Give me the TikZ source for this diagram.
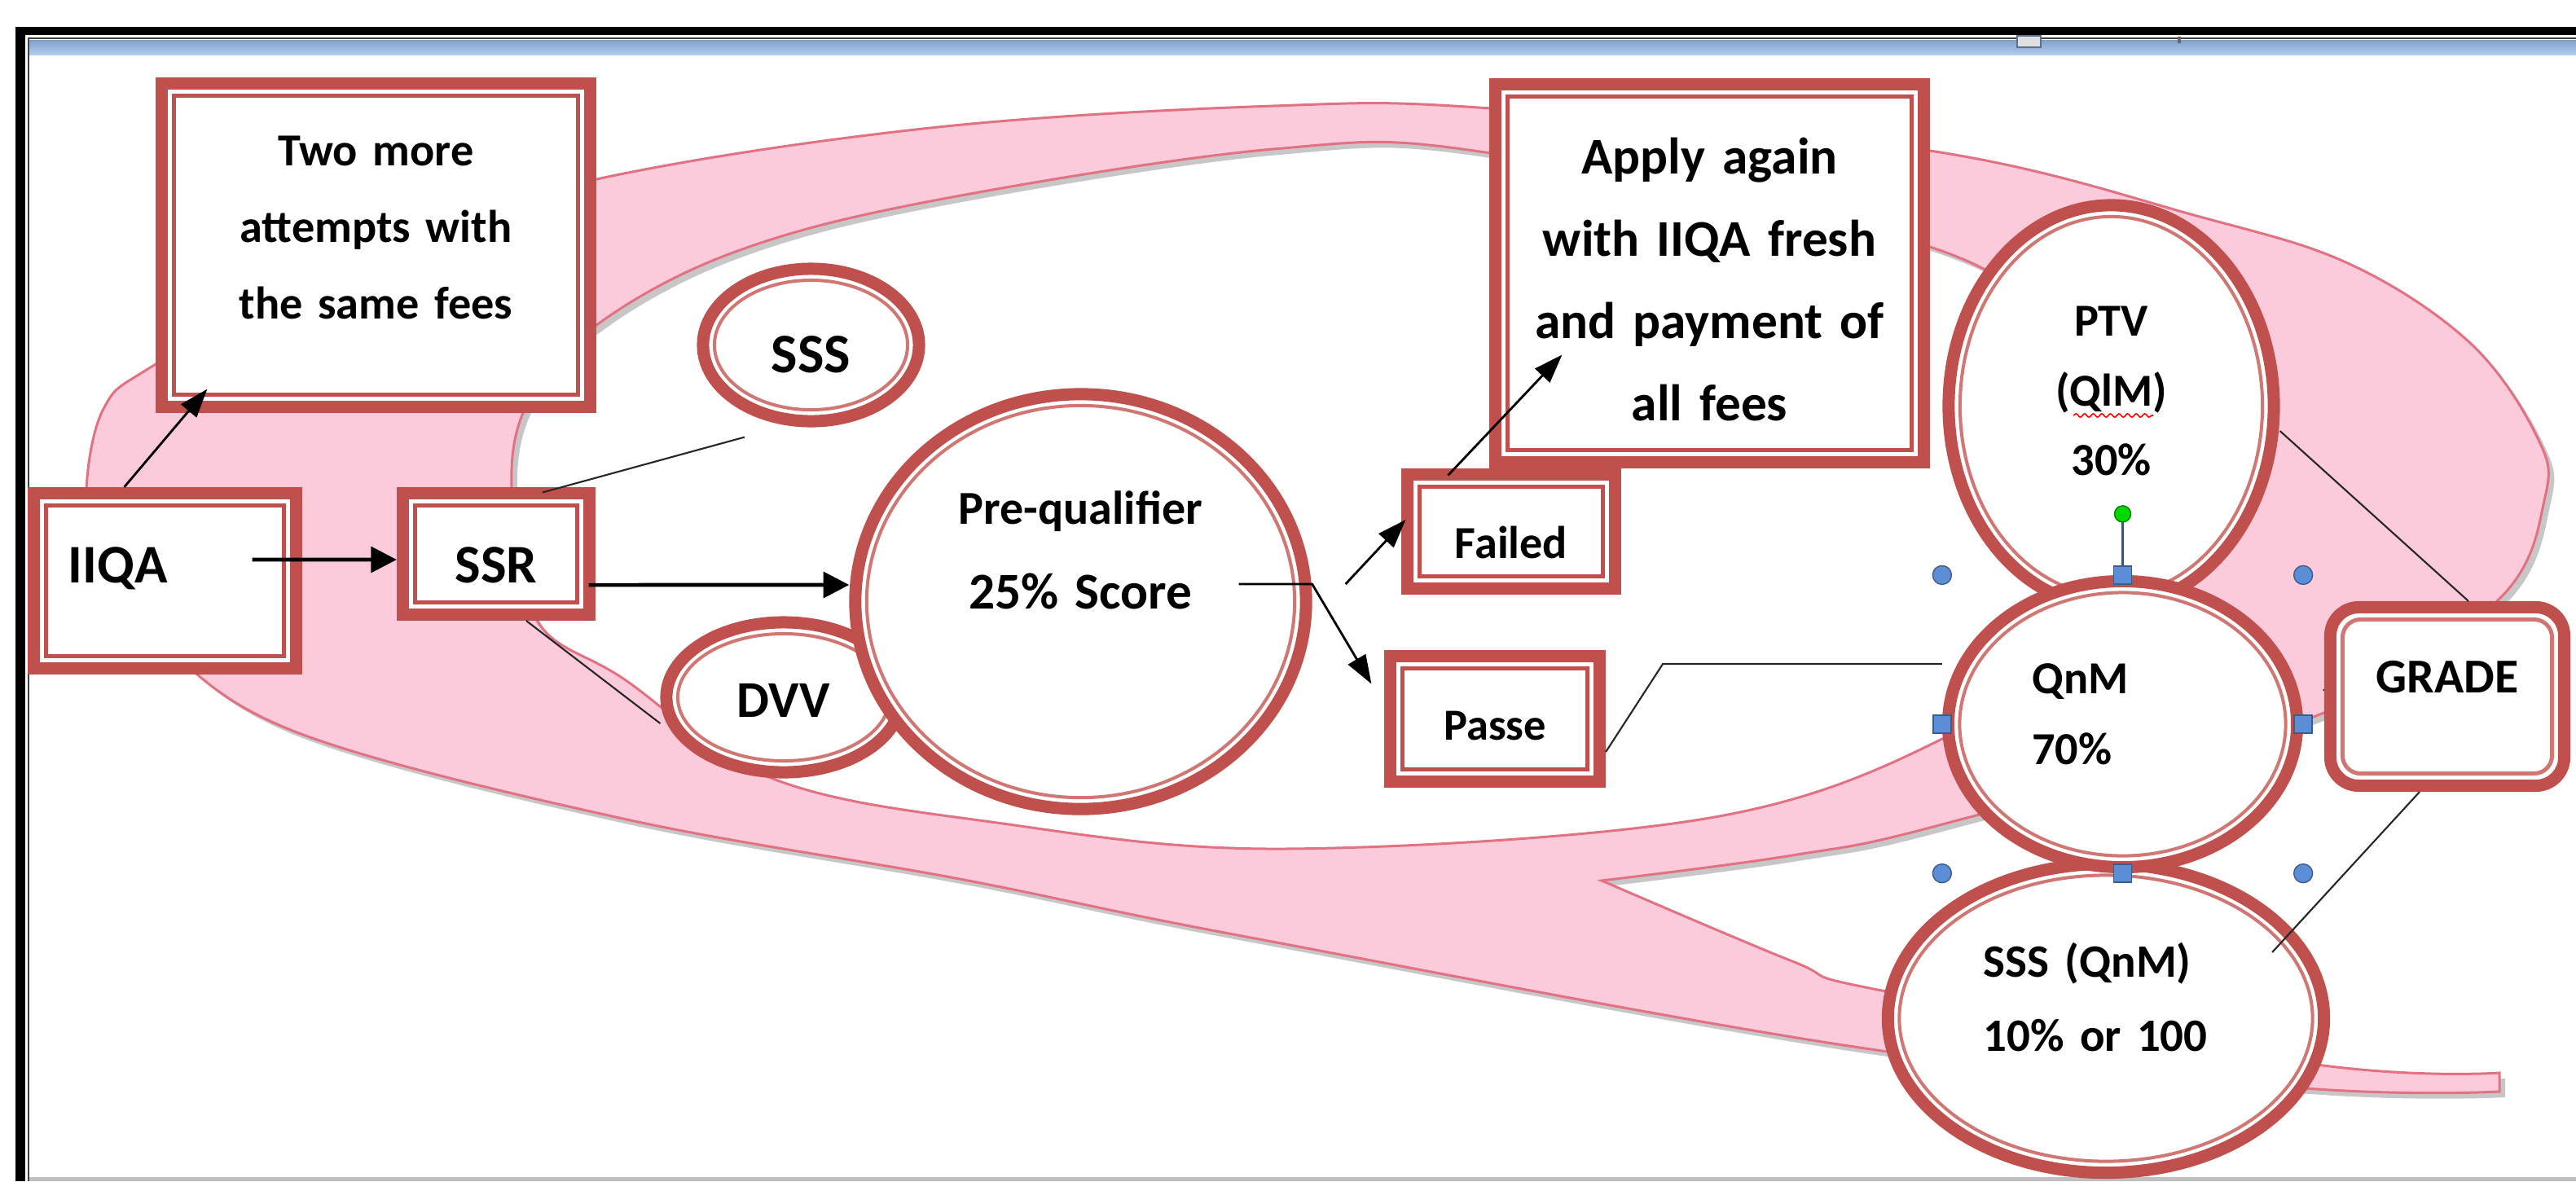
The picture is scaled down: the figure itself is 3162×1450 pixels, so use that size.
\documentclass[tikz,border=0pt]{standalone}
\usepackage{fontspec}
\setmainfont{Carlito}
\usetikzlibrary{shapes.geometric,arrows.meta,calc,decorations.pathmorphing}

\definecolor{wred}{RGB}{192,80,77}
\definecolor{wredl}{RGB}{208,118,115}
\definecolor{swirlpink}{RGB}{251,203,220}
\definecolor{swirledge}{RGB}{226,114,130}
\definecolor{barblue}{RGB}{128,160,204}
\definecolor{barlight}{RGB}{178,204,236}
\definecolor{handleblue}{RGB}{92,142,216}

\tikzset{
  dblbox/.style={draw=wred,line width=0.15cm,fill=white,inner sep=0pt,
    path picture={\draw[wred,line width=0.05cm]
      ([shift={(0.15cm,-0.15cm)}]path picture bounding box.north west) rectangle
      ([shift={(-0.15cm,0.15cm)}]path picture bounding box.south east);}},
  dblround/.style={draw=wred,line width=0.15cm,fill=white,inner sep=0pt,rounded corners=0.35cm,
    path picture={\draw[wredl,line width=0.05cm,rounded corners=0.22cm]
      ([shift={(0.15cm,-0.15cm)}]path picture bounding box.north west) rectangle
      ([shift={(-0.15cm,0.15cm)}]path picture bounding box.south east);}},
  dblell/.style={ellipse,draw=wred,line width=0.15cm,fill=white,inner sep=0pt,
    path picture={\draw[wredl,line width=0.04cm]
      let \p1=(path picture bounding box.north east),\p2=(path picture bounding box.center)
      in (\p2) ellipse ({\x1-\x2-0.14cm} and {\y1-\y2-0.14cm});}},
  bigarrow/.style={draw=black,line width=1.3pt,->,>={Triangle[length=9pt,width=9pt]}},
  smallarrow/.style={draw=black,line width=0.8pt,->,>={Triangle[length=10pt,width=7pt]}},
  link/.style={draw=black!85,line width=0.6pt},
  handle/.style={fill=handleblue,draw=handleblue!65!black,line width=0.4pt}
}

\newcommand{\swirlpath}{
  plot[smooth,tension=0.6] coordinates {(1966,1081) (2200,1180) (2310,1216) (2844,1307) (3068,1317)}
  -- plot[smooth,tension=0.6] coordinates {(3068,1340) (2844,1337) (2310,1290) (1530,1150) (1178,1079)
     (765,1005) (367,900) (200,790) (118,680) (106,600) (128,500) (191,447) (430,310) (732,220)
     (1142,157) (1563,130) (1830,133) (2369,185) (2700,266) (2886,325) (3032,421) (3114,536)
     (3124,610) (3067,736) (2850,876) (2384,1012) (2200,1050) (1966,1081)}
  -- cycle
  plot[smooth cycle,tension=0.6] coordinates {(1563,183) (1830,188) (2369,303) (2520,420) (2590,600)
     (2550,780) (2384,907) (2093,1005) (1576,1042) (1224,1010) (949,956) (765,833) (658,760)
     (628,600) (650,490) (735,397) (900,310) (1142,247)}}

\begin{document}
\begin{tikzpicture}[x=0.01cm,y=-0.01cm]
\useasboundingbox (0,0) rectangle (3162,1450);
\fill[white] (0,0) rectangle (3162,1450);

\begin{scope}
  \fill[black] (19,33) rectangle (3162,43);
  \fill[black] (19,33) rectangle (31,1450);
  \shade[top color=barblue,bottom color=barlight] (36,49) rectangle (3162,67);
  \draw[black!75,line width=0.6pt] (35,1450) -- (35,47) -- (3162,47);
  \filldraw[fill=black!12,draw=barblue!70!black,line width=0.6pt] (2476,44) rectangle (2505,58);
  \draw[black!60,line width=1pt] (2675,45) -- (2675,53);
  \draw[black!25,line width=0.05cm] (36,1447) -- (3162,1447);
\end{scope}

\begin{scope}[shift={(7,7)}]
  \fill[black!22,even odd rule] \swirlpath;
\end{scope}
\filldraw[fill=swirlpink,draw=swirledge,line width=0.03cm,even odd rule] \swirlpath;

\node[dblbox,minimum width=5.26cm,minimum height=3.97cm,text width=4.6cm,align=center,
  text height=0pt,text depth=1.94cm,font=\bfseries\fontsize{16pt}{26.7pt}\selectfont]
  (twomore) at (461.5,301) {Two more\\attempts with\\the same fees};
\node[dblbox,minimum width=5.26cm,minimum height=4.64cm,text width=4.8cm,align=center,
  text height=0pt,text depth=2.43cm,font=\bfseries\fontsize{18pt}{28.7pt}\selectfont]
  (apply) at (2098.5,335.5) {Apply again\\with IIQA fresh\\and payment of\\all fees};
\node[dblbox,minimum width=3.22cm,minimum height=2.15cm,text width=2.37cm,align=left,
  text height=0.04cm,text depth=0pt,font=\bfseries\fontsize{19pt}{23pt}\selectfont]
  (iiqa) at (202.5,713) {IIQA};
\node[dblbox,minimum width=2.29cm,minimum height=1.49cm,
  text height=0.7cm,text depth=0pt,font=\bfseries\fontsize{19pt}{23pt}\selectfont]
  (ssr) at (609,680) {SSR};
\node[dblell,minimum width=2.65cm,minimum height=1.87cm,
  text height=0.67cm,text depth=0pt,font=\bfseries\fontsize{19.5pt}{23pt}\selectfont]
  (sss) at (995.5,423.5) {SSS};
\node[dblell,minimum width=2.88cm,minimum height=1.84cm,
  text height=0.48cm,text depth=0pt,font=\bfseries\fontsize{18pt}{22pt}\selectfont]
  (dvv) at (962,856) {DVV};
\node[dblell,minimum width=5.53cm,minimum height=5.09cm,text width=3.4cm,align=center,
  text height=0pt,text depth=1.89cm,font=\bfseries\fontsize{16.5pt}{29.3pt}\selectfont]
  (prequal) at (1326.5,738.5) {Pre-qualifier\\{\fontsize{18pt}{29.3pt}\selectfont 25\% Score}};
\node[dblbox,minimum width=2.55cm,minimum height=1.40cm,
  text height=0.65cm,text depth=0pt,font=\bfseries\fontsize{16pt}{20pt}\selectfont]
  (failed) at (1855,652.5) {Failed};
\node[dblbox,minimum width=2.57cm,minimum height=1.54cm,
  text height=0.51cm,text depth=0pt,font=\bfseries\fontsize{15.5pt}{20pt}\selectfont]
  (passe) at (1835,882.5) {Passe};
\node[dblell,minimum width=3.99cm,minimum height=4.93cm,text width=2cm,align=center,
  text height=0pt,text depth=1.71cm,font=\bfseries\fontsize{16pt}{24.3pt}\selectfont]
  (ptv) at (2591.5,498.5) {PTV\\(QlM)\\30\%};
\node[dblell,minimum width=5.35cm,minimum height=3.79cm,text width=3cm,align=left,
  text height=0pt,text depth=1cm,font=\bfseries\fontsize{16.2pt}{25.6pt}\selectfont]
  (sssqnm) at (2585,1250) {SSS (QnM)\\10\% or 100};
\node[dblell,minimum width=4.28cm,minimum height=3.51cm,text width=2.22cm,align=left,
  text height=0pt,text depth=0.74cm,font=\bfseries\fontsize{16pt}{24.7pt}\selectfont]
  (qnm) at (2605.5,889) {QnM\\70\%};
\node[dblround,minimum width=2.87cm,minimum height=2.19cm,
  text height=0pt,text depth=0.1cm,font=\bfseries\fontsize{17pt}{20pt}\selectfont]
  (grade) at (3004,855) {GRADE};

\coordinate (fork) at ([yshift=0.215cm]prequal.east);
\coordinate (qnmin) at ([yshift=0.74cm]qnm.west);

\path[bigarrow] ([xshift=-0.615cm,yshift=0.26cm]iiqa.east) -- ([yshift=-0.07cm]ssr.west);
\path[bigarrow] ([xshift=-0.085cm,yshift=-0.38cm]ssr.east) -- ([yshift=0.205cm]prequal.west);
\path[smallarrow] ([xshift=-0.5cm]iiqa.north) -- ([xshift=0.635cm,yshift=0.295cm]twomore.south west);
\path[link] ([xshift=0.57cm,yshift=-0.065cm]ssr.north) -- ([xshift=-0.815cm,yshift=-0.12cm]sss.south);
\path[link] ([xshift=0.37cm]ssr.south) -- ([yshift=-0.32cm]dvv.west);
\path[smallarrow] ([xshift=-0.9cm]fork) -- (fork) -- ([xshift=-0.155cm,yshift=-0.415cm]passe.north west);
\path[smallarrow] ([xshift=0.41cm]fork) -- ([xshift=0.055cm,yshift=0.145cm]failed.west);
\path[smallarrow] ([xshift=0.575cm,yshift=-0.085cm]failed.north west) -- ([xshift=0.895cm,yshift=1.395cm]apply.south west);
\path[link] ([yshift=-0.405cm]passe.east) -- ([xshift=0.7cm]passe.east |- qnmin) -- (qnmin);
\path[link] ([xshift=0.245cm,yshift=0.42cm]qnm.east) -- ([yshift=0.08cm]grade.west);
\path[link] ([yshift=-0.305cm]ptv.east) -- ([xshift=0.26cm]grade.north);
\path[link] ([xshift=-0.34cm]grade.south) -- ([xshift=2.04cm,yshift=0.81cm]sssqnm.center);

\draw[red,line width=0.45pt,decorate,decoration={snake,amplitude=0.6pt,segment length=3pt}]
  ([xshift=-0.465cm,yshift=-0.115cm]ptv.center) -- ([xshift=0.515cm,yshift=-0.115cm]ptv.center);

\draw[handleblue!60!black,line width=0.7pt] (qnm.north) -- ++(0,0.75cm);
\filldraw[fill=green!85!black,draw=green!50!black,line width=0.4pt] ([yshift=0.75cm]qnm.north) circle (0.1cm);
\foreach \v in {north,south}
  \foreach \h in {west,east}
    \filldraw[handle] (qnm.\v -| qnm.\h) circle (0.115cm);
\foreach \a in {north,south,west,east}
  \filldraw[handle] ([shift={(-0.11cm,-0.11cm)}]qnm.\a) rectangle ++(0.22cm,0.22cm);
\end{tikzpicture}
\end{document}
